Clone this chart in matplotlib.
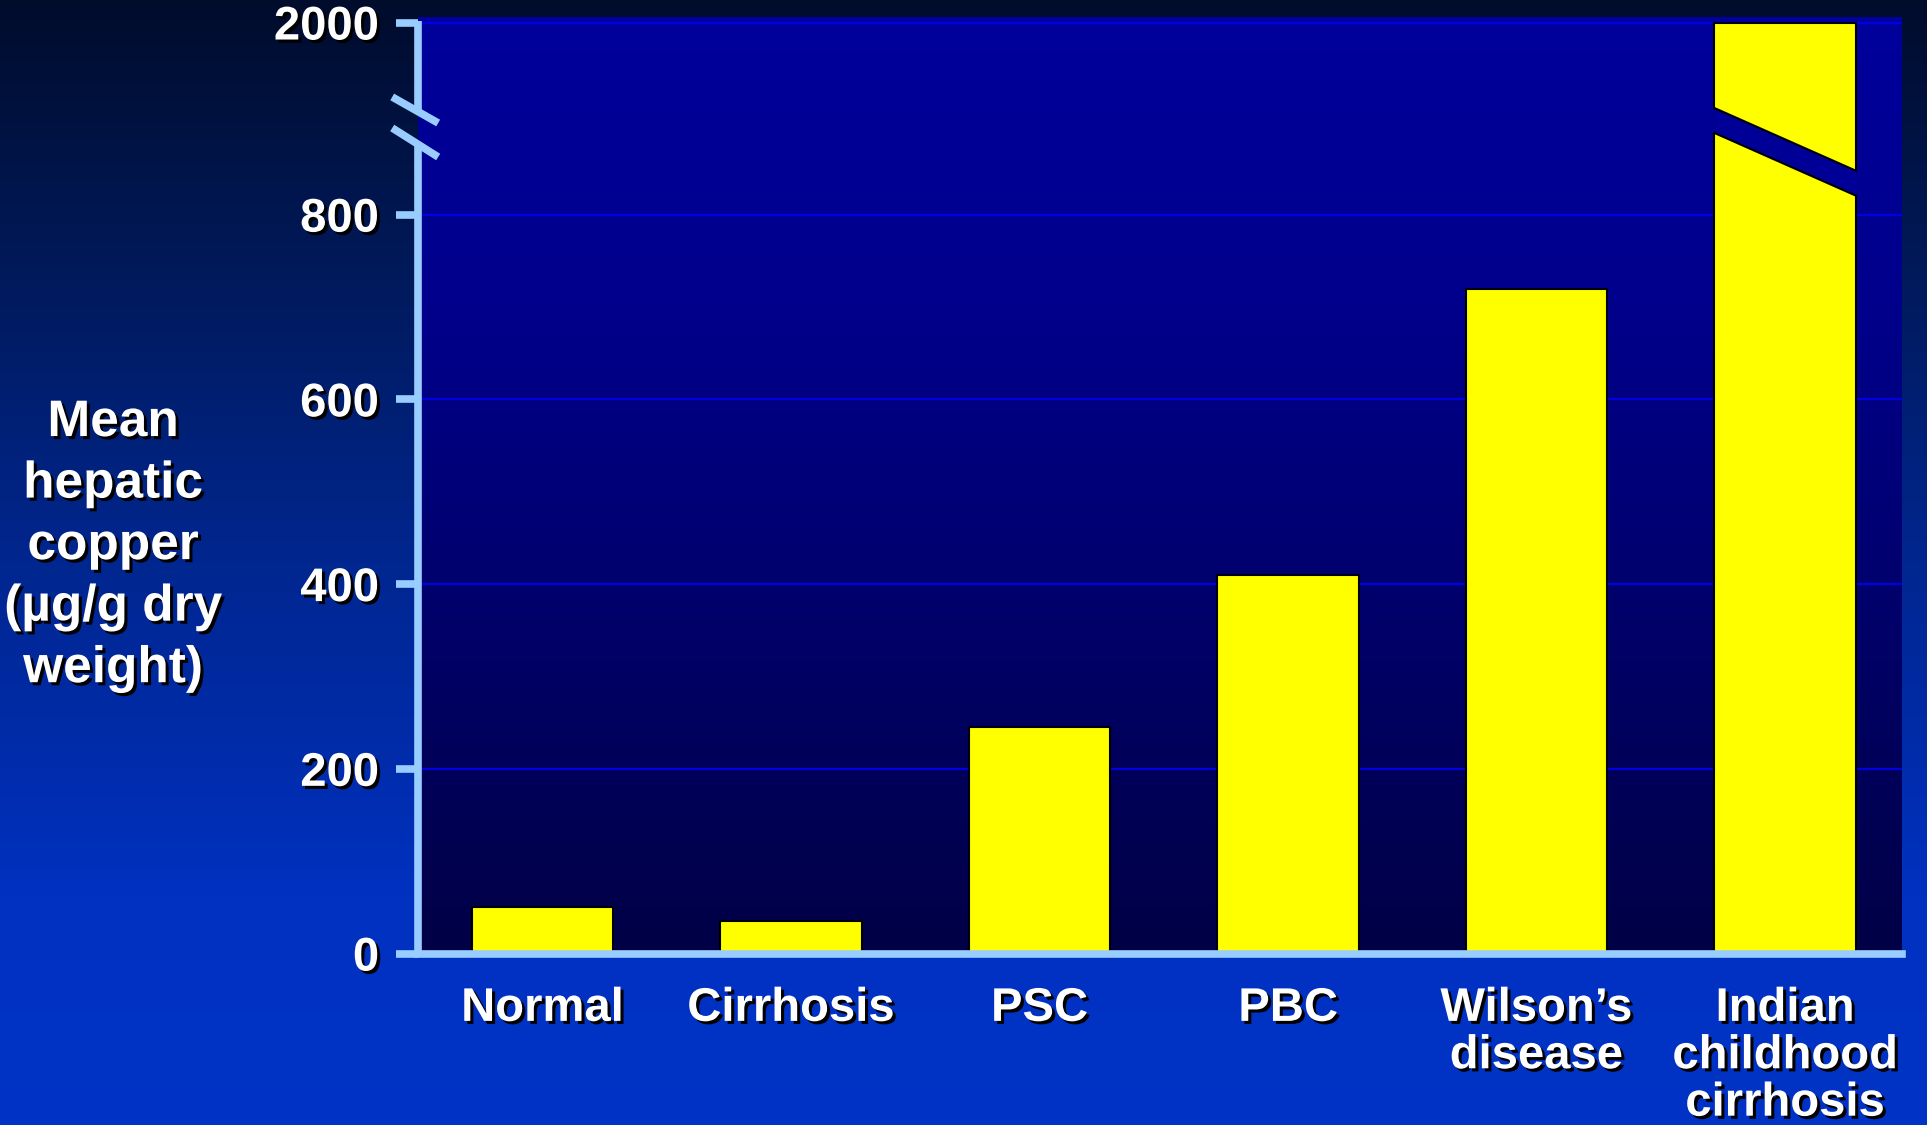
import matplotlib.pyplot as plt
import matplotlib.patheffects as pe
import numpy as np
from matplotlib.colors import LinearSegmentedColormap

# Data
categories = ['Normal', 'Cirrhosis', 'PSC', 'PBC', "Wilson\u2019s\ndisease",
              'Indian\nchildhood\ncirrhosis']
copper = [50, 35, 245, 410, 720, 2000]
yticks = [0, 200, 400, 600, 800, 2000]

# Broken y axis: linear up to 800, compressed above
k = 208.0 / 1200.0

def fwd(y):
    y = np.asarray(y, dtype=float)
    return np.where(y <= 800, y, 800 + (y - 800) * k)

def inv(m):
    m = np.asarray(m, dtype=float)
    return np.where(m <= 800, m, 800 + (m - 800) / k)

plt.rcParams['font.family'] = ['Liberation Sans', 'DejaVu Sans']
plt.rcParams['font.weight'] = 'bold'

shadow = [pe.SimplePatchShadow(offset=(2.2, -2.2), shadow_rgbFace='black', alpha=1.0),
          pe.Normal()]
axis_col = '#99ccff'

fig = plt.figure(figsize=(19.27, 11.25), dpi=100)

# Figure background gradient
bg = fig.add_axes([0, 0, 1, 1], zorder=-10)
bg_cmap = LinearSegmentedColormap.from_list(
    'bg', [(0.0, '#000c2c'), (0.25, '#001a5c'), (0.5, '#00268f'),
           (0.8, '#0031c0'), (1.0, '#0033c6')])
bg.imshow(np.linspace(0, 1, 256).reshape(-1, 1), aspect='auto', cmap=bg_cmap,
          extent=[0, 1, 1, 0])
bg.set_axis_off()

ax = fig.add_axes([0.217, 0.1524, 0.770, 0.8325])
ax.set_yscale('function', functions=(fwd, inv))

# Plot area gradient (bright at top, dark at bottom)
pa_cmap = LinearSegmentedColormap.from_list(
    'pa', [(0.0, '#00009c'), (0.3, '#00008c'), (1.0, '#000046')])
ax.imshow(np.linspace(0, 1, 256).reshape(-1, 1), aspect='auto', cmap=pa_cmap,
          extent=[0, 1, 0, 1], transform=ax.transAxes, zorder=0)

x = np.arange(len(categories))
ax.bar(x, copper, width=0.57, color='#ffff00', edgecolor='black', linewidth=1.5,
       zorder=3)

# Break through the tall bar
xl, xr = x[-1] - 0.29, x[-1] + 0.29
m_top_l, m_top_r = 915.5, 847.5
m_bot_l, m_bot_r = 888.5, 820.5
ax.fill([xl, xr, xr, xl], inv([m_top_l, m_top_r, m_bot_r, m_bot_l]),
        color='#000096', lw=0, zorder=4)
ax.plot([x[-1] - 0.285, x[-1] + 0.285], inv([m_top_l, m_top_r]),
        color='black', lw=1.5, zorder=5)
ax.plot([x[-1] - 0.285, x[-1] + 0.285], inv([m_bot_l, m_bot_r]),
        color='black', lw=1.5, zorder=5)

ax.set_xlim(-0.5, 5.47)
ax.set_ylim(0, float(inv(1014.0)))

# Gridlines
for t in yticks:
    ax.axhline(t, color='#0000e0', lw=1.6, zorder=1)

ax.set_yticks(yticks)
ax.set_yticklabels([str(t) for t in yticks])
ax.set_xticks(x)
ax.set_xticklabels(categories, linespacing=1.1)

for s in ['top', 'right', 'left']:
    ax.spines[s].set_visible(False)
ax.spines['bottom'].set_color(axis_col)
ax.spines['bottom'].set_linewidth(5.5)
ax.spines['bottom'].set_zorder(6)

# Left axis with break
lw = 5.5
ax.plot([0, 0], [0, 0.8655], transform=ax.transAxes, color=axis_col, lw=lw,
        clip_on=False, zorder=6, solid_capstyle='butt')
ax.plot([0, 0], [0.9007, 0.996], transform=ax.transAxes, color=axis_col, lw=lw,
        clip_on=False, zorder=6, solid_capstyle='butt')
ax.plot([-0.0175, 0.0135], [0.9146, 0.8868], transform=ax.transAxes,
        color=axis_col, lw=lw, clip_on=False, zorder=6, solid_capstyle='butt')
ax.plot([-0.0175, 0.0135], [0.8815, 0.8505], transform=ax.transAxes,
        color=axis_col, lw=lw, clip_on=False, zorder=6, solid_capstyle='butt')

ax.tick_params(axis='y', direction='out', length=16, width=5.5, color=axis_col,
               pad=12, labelsize=34, labelcolor='white')
ax.tick_params(axis='x', length=0, pad=24, labelsize=34, labelcolor='white')
for lab in ax.get_yticklabels() + ax.get_xticklabels():
    lab.set_fontweight('bold')
    lab.set_path_effects(shadow)
for lab in ax.get_xticklabels():
    lab.set_verticalalignment('top')

fig.text(0.0587, 0.515, 'Mean\nhepatic\ncopper\n(\u00b5g/g dry\nweight)',
         ha='center', va='center', fontsize=37, fontweight='bold', color='white',
         linespacing=1.33, path_effects=shadow)

fig.savefig('out.png', dpi=100)
